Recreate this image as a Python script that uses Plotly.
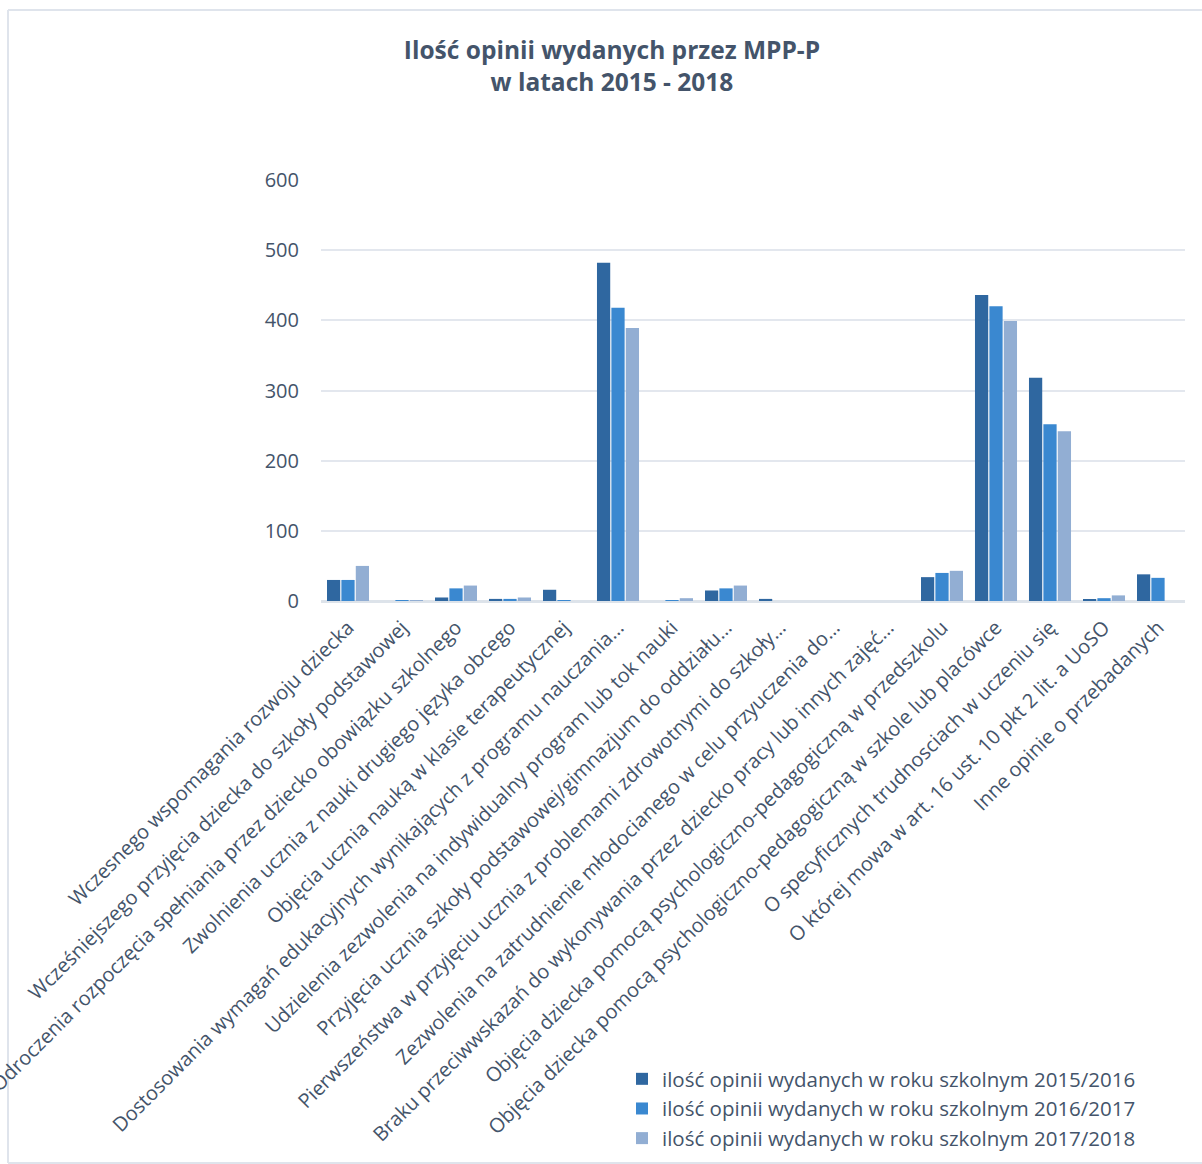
import plotly.graph_objects as go

categories = [
    "Wczesnego wspomagania rozwoju dziecka",
    "Wcześniejszego przyjęcia dziecka do szkoły podstawowej",
    "Odroczenia rozpoczęcia spełniania przez dziecko obowiązku szkolnego",
    "Zwolnienia ucznia z nauki drugiego języka obcego",
    "Objęcia ucznia nauką w klasie terapeutycznej",
    "Dostosowania wymagań edukacyjnych wynikających z programu nauczania…",
    "Udzielenia zezwolenia na indywidualny program lub tok nauki",
    "Przyjęcia ucznia szkoły podstawowej/gimnazjum do oddziału…",
    "Pierwszeństwa w przyjęciu ucznia z problemami zdrowotnymi do szkoły…",
    "Zezwolenia na zatrudnienie młodocianego w celu przyuczenia do…",
    "Braku przeciwwskazań do wykonywania przez dziecko pracy lub innych zajęć…",
    "Objęcia dziecka pomocą psychologiczno-pedagogiczną w przedszkolu",
    "Objęcia dziecka pomocą psychologiczno-pedagogiczną w szkole lub placówce",
    "O specyficznych trudnosciach w uczeniu się",
    "O której mowa w art. 16 ust. 10 pkt 2 lit. a UoSO",
    "Inne opinie o przebadanych",
]

series_names = [
    "ilość opinii wydanych w roku szkolnym 2015/2016",
    "ilość opinii wydanych w roku szkolnym 2016/2017",
    "ilość opinii wydanych w roku szkolnym 2017/2018",
]

values_2015_2016 = [30, 0, 5, 3, 16, 482, 0, 15, 3, 0, 0, 34, 436, 318, 2, 38]
values_2016_2017 = [30, 1, 18, 3, 1, 418, 1, 18, 0, 0, 0, 40, 420, 252, 4, 33]
values_2017_2018 = [50, 1, 22, 5, 0, 389, 4, 22, 0, 0, 0, 43, 399, 242, 8, 0]

y_ticks = [0, 100, 200, 300, 400, 500, 600]

colors = ["#2f67a0", "#3a88d0", "#92aed3"]
text_color = "#44546a"
font_family = "Open Sans, Noto Sans, sans-serif"

fig = go.Figure()
for name, vals, col in zip(series_names,
                           [values_2015_2016, values_2016_2017, values_2017_2018],
                           colors):
    fig.add_trace(go.Bar(x=categories, y=vals, name=name,
                         marker=dict(color=col, line=dict(width=0))))

# plot-area geometry (pixels) for margins and the outer frame
W, H = 1202, 1164
L, R, T, B = 321, 17, 180, 563
pw, ph = W - L - R, H - T - B

def px_x(x):
    return (x - L) / pw

def px_y(y):
    return (H - B - y) / ph

frame = dict(color="#dfe4ec", width=2)
shapes = [
    dict(type="line", xref="paper", yref="paper", x0=px_x(8), x1=px_x(8),
         y0=px_y(10), y1=px_y(1163), line=frame, layer="below"),
    dict(type="line", xref="paper", yref="paper", x0=px_x(8), x1=px_x(1202),
         y0=px_y(10), y1=px_y(10), line=frame, layer="below"),
    dict(type="line", xref="paper", yref="paper", x0=px_x(8), x1=px_x(1202),
         y0=px_y(1163), y1=px_y(1163), line=frame, layer="below"),
]

fig.update_layout(
    width=W, height=H,
    margin=dict(l=L, r=R, t=T, b=B, autoexpand=False),
    paper_bgcolor="white", plot_bgcolor="white",
    font=dict(family=font_family, color=text_color, size=20),
    title=dict(
        text="<b>Ilość opinii wydanych przez MPP-P</b><br><b>w latach 2015 - 2018</b>",
        x=px_x(612), xanchor="center", xref="paper",
        y=1 - 59 / H, yanchor="middle",
        font=dict(size=24.5, color=text_color, family=font_family),
    ),
    barmode="group", bargap=0.2, bargroupgap=0.08,
    xaxis=dict(
        tickangle=-45, automargin=False, showgrid=False, showline=False,
        ticks="", ticklabelstandoff=10, tickfont=dict(size=20, color=text_color),
    ),
    yaxis=dict(
        range=[0, 600], tickvals=y_ticks, automargin=False,
        showgrid=True, gridcolor="#e3e7ee", gridwidth=1.5,
        zeroline=True, zerolinecolor="#dde3ea", zerolinewidth=3,
        showline=False, ticks="", ticklabelstandoff=21,
        tickfont=dict(size=20, color=text_color),
    ),
    legend=dict(
        x=px_x(622), xanchor="left", y=px_y(1059), yanchor="top",
        orientation="v", font=dict(size=20.5, color=text_color),
        itemwidth=30, tracegroupgap=0, bgcolor="rgba(0,0,0,0)",
    ),
    shapes=shapes,
    showlegend=True,
)

fig.write_html("out.html", config={"displayModeBar": False},
               post_script="document.body.style.margin='0';document.body.style.padding='0';")
